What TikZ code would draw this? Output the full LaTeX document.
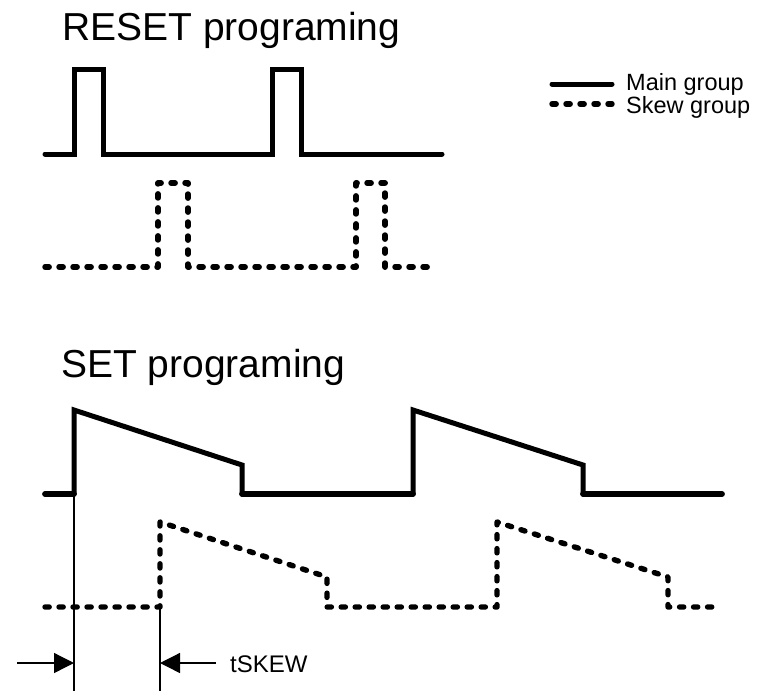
\documentclass[tikz,border=0pt]{standalone}
\usepackage{fontspec}
\setmainfont{Liberation Sans}
\usetikzlibrary{arrows.meta}
\begin{document}
\begin{tikzpicture}[x=1pt,y=-1pt,
  mainwave/.style={line width=5pt,line cap=round,line join=miter},
  mainbase/.style={line width=5.8pt,line cap=round},
  skewwave/.style={line width=5.4pt,line cap=round,line join=round,dash pattern=on 4.2pt off 9.8pt},
  marker/.style={line width=1.3pt},
  skewarrow/.style={line width=1.3pt,-{Triangle[length=20pt,width=20pt]}},
  title/.style={inner sep=0pt,anchor=base west,font=\fontsize{39}{44}\selectfont},
  label/.style={inner sep=0pt,anchor=base west,font=\fontsize{24}{28}\selectfont}]
\useasboundingbox (0,0) rectangle (757,691);

% headings
\node[title] (resettitle) at (62,40) {RESET programing};
\node[title] (settitle) at (61,377) {SET programing};

% legend
\coordinate (lgmA) at (552,84);
\coordinate (lgmB) at (612,84);
\coordinate (lgsA) at (552,104);
\coordinate (lgsB) at (612,104);
\draw[mainwave] (lgmA) -- (lgmB);
\draw[skewwave] (lgsA) -- (lgsB);
\node[inner sep=0pt,anchor=base west,align=left,
      font=\fontsize{23.5}{20}\selectfont] (lgtext) at (626,113)
  {Main group\\Skew group};

% RESET: main group pulses
\draw[mainwave] (45,154) -- (74,154) -- (74,69) -- (103,69) -- (103,154)
  -- (272,154) -- (272,69) -- (301,69) -- (301,154) -- (442,154);
% RESET: skew group pulses
\draw[skewwave] (45,267) -- (158,267) -- (158,183) -- (188,183) -- (188,267)
  -- (356,267) -- (356,183) -- (385,183) -- (385,267) -- (433,267);

% SET: main group ramps
\draw[mainwave] (74,494) -- (74,410) -- (242,465) -- (242,494);
\draw[mainwave] (413,494) -- (413,410) -- (583,465) -- (583,494);
\draw[mainbase] (45,494) -- (74,494);
\draw[mainbase] (242,494) -- (413,494);
\draw[mainbase] (583,494) -- (722,494);

% SET: skew group ramps
\draw[skewwave] (45,607) -- (160,607) -- (160,522) -- (327,577) -- (327,607)
  -- (497,607) -- (497,522) -- (668,577) -- (668,607) -- (718,607);

% skew time markers
\coordinate (mA) at (74,494);
\coordinate (mAend) at (74,691);
\coordinate (mB) at (160,607);
\coordinate (mBend) at (160,691);
\draw[marker] (mA) -- (mAend);
\draw[marker] (mB) -- (mBend);
\coordinate (arrL) at (17,663);
\coordinate (arrLtip) at (74,663);
\coordinate (arrR) at (216,663);
\coordinate (arrRtip) at (160,663);
\draw[skewarrow] (arrL) -- (arrLtip);
\draw[skewarrow] (arrR) -- (arrRtip);
\node[label] (tskew) at (230,672) {tSKEW};
\end{tikzpicture}
\end{document}
